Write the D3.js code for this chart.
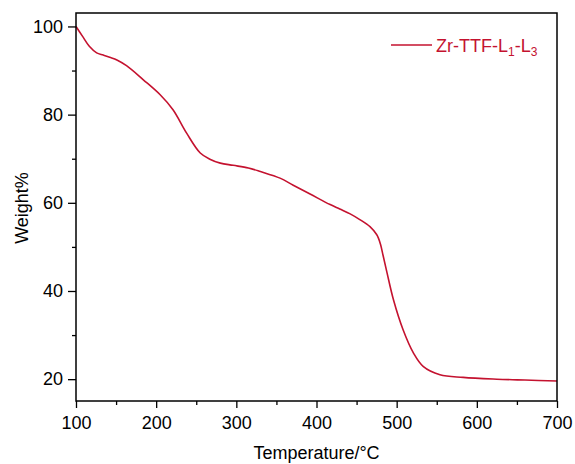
<!DOCTYPE html>
<html>
<head>
<meta charset="utf-8">
<script src="https://cdn.jsdelivr.net/npm/d3@7"></script>
<style>
  html, body { margin: 0; padding: 0; background: #fff; }
  svg { display: block; }
  text { font-family: "Liberation Sans", Arial, sans-serif; }
</style>
</head>
<body>
<svg id="chart" width="575" height="464"></svg>
<script>
// TGA curve: temperature (°C) and residual weight (%)
const temperature = [100, 108, 116.6, 125.8, 134, 142, 151, 163, 184, 205, 221, 238, 255, 267, 280, 296, 315, 330, 354.5, 371, 392, 417, 429, 442, 454, 466.7, 475, 477, 480, 483, 488, 496, 508, 521, 533, 554, 583, 625, 660, 700];
const weight      = [100, 97.8, 95.5, 94.0, 93.5, 93.0, 92.4, 91.1, 87.9, 84.5, 81.1, 75.8, 71.3, 69.9, 69.0, 68.5, 67.9, 67.1, 65.6, 64.0, 62.0, 59.6, 58.6, 57.5, 56.2, 54.6, 52.8, 52.1, 50.5, 48.1, 44.1, 38.0, 31.2, 25.9, 22.9, 21.0, 20.4, 20.0, 19.8, 19.6];
const seriesName = "Zr-TTF-L";
const xTicks = [100, 200, 300, 400, 500, 600, 700];
const xMinorTicks = [150, 250, 350, 450, 550, 650];
const yTicks = [20, 40, 60, 80, 100];
const yMinorTicks = [30, 50, 70, 90];

const lineColor = "#c4122f";
const svg = d3.select("#chart");
const plot = { left: 76, right: 557, top: 13, bottom: 401 };

const x = d3.scaleLinear().domain([100, 700]).range([plot.left, plot.right]);
const y = d3.scaleLinear().domain([15.05, 103.05]).range([plot.bottom, plot.top]);

const points = temperature.map((t, i) => [t, weight[i]]);

// curve
const line = d3.line()
  .x(d => x(d[0]))
  .y(d => y(d[1]))
  .curve(d3.curveCatmullRom.alpha(0.5));

svg.append("path")
  .datum(points)
  .attr("fill", "none")
  .attr("stroke", lineColor)
  .attr("stroke-width", 1.6)
  .attr("d", line);

// axes
const fontSize = 18;
const xAxis = d3.axisBottom(x).tickValues(xTicks).tickSize(7).tickPadding(8).tickFormat(d3.format("d"));
const yAxis = d3.axisLeft(y).tickValues(yTicks).tickSize(8).tickPadding(5).tickFormat(d3.format("d"));

const gx = svg.append("g").attr("transform", `translate(0,${plot.bottom})`).call(xAxis);
const gy = svg.append("g").attr("transform", `translate(${plot.left},0)`).call(yAxis);

svg.append("g").attr("transform", `translate(0,${plot.bottom})`)
  .call(d3.axisBottom(x).tickValues(xMinorTicks).tickSize(4).tickFormat(""));
svg.append("g").attr("transform", `translate(${plot.left},0)`)
  .call(d3.axisLeft(y).tickValues(yMinorTicks).tickSize(4).tickFormat(""));

svg.selectAll(".domain").remove();
svg.selectAll(".tick line").attr("stroke", "#000").attr("stroke-width", 1.3);
[gx, gy].forEach(g => g.selectAll(".tick text")
  .attr("fill", "#000")
  .style("font-size", fontSize + "px")
  .style("font-family", "'Liberation Sans', Arial, sans-serif"));

// frame
svg.append("rect")
  .attr("x", plot.left).attr("y", plot.top)
  .attr("width", plot.right - plot.left).attr("height", plot.bottom - plot.top)
  .attr("fill", "none").attr("stroke", "#000").attr("stroke-width", 1.5);

// axis titles
svg.append("text")
  .attr("x", (plot.left + plot.right) / 2).attr("y", 459)
  .attr("text-anchor", "middle").style("font-size", "18px")
  .text("Temperature/°C");

svg.append("text")
  .attr("transform", "translate(28,208) rotate(-90)")
  .attr("text-anchor", "middle").style("font-size", "18px")
  .text("Weight%");

// legend
svg.append("line")
  .attr("x1", 391).attr("x2", 432).attr("y1", 45).attr("y2", 45)
  .attr("stroke", lineColor).attr("stroke-width", 1.6);

const legendText = svg.append("text")
  .attr("x", 436).attr("y", 51.5)
  .attr("fill", lineColor).style("font-size", "18px");
legendText.append("tspan").text(seriesName);
legendText.append("tspan").attr("dy", 4).style("font-size", "12px").text("1");
legendText.append("tspan").attr("dy", -4).text("-L");
legendText.append("tspan").attr("dy", 4).style("font-size", "12px").text("3");
</script>
</body>
</html>
